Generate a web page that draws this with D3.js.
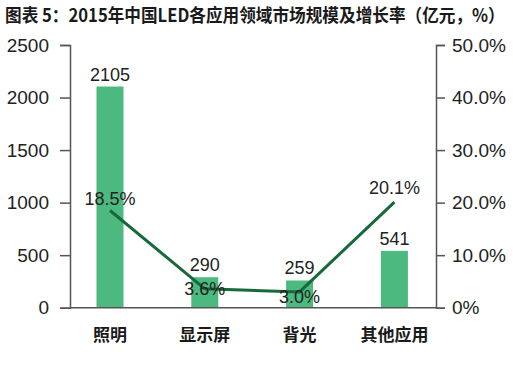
<!DOCTYPE html>
<html><head><meta charset="utf-8">
<script src="https://cdn.jsdelivr.net/npm/d3@7/dist/d3.min.js"></script>
<style>body{margin:0;background:#fff}svg{display:block}</style>
</head><body>
<script>
const categories = ["照明", "显示屏", "背光", "其他应用"];
const marketSize = [2105, 290, 259, 541];
const growthRate = [0.185, 0.036, 0.030, 0.201];
const growthLabels = ["18.5%", "3.6%", "3.0%", "20.1%"];
const leftTicks = [0, 500, 1000, 1500, 2000, 2500];
const rightTicks = [0, 0.1, 0.2, 0.3, 0.4, 0.5];
const rightTickLabels = ["0%", "10.0%", "20.0%", "30.0%", "40.0%", "50.0%"];
const title = "图表 5：2015年中国LED各应用领域市场规模及增长率（亿元，%）";
// label vertical offsets (style, not data)
const growthLabelDy = [-12, 0, 5, -14];

const W = 513, H = 369;
const svg = d3.select("body").append("svg").attr("width", W).attr("height", H);
const axisX0 = 70, axisX1 = 436, yTop = 45, yBot = 307.7;
const x = d3.scaleBand().domain(categories).range([62.6, 441.8]).paddingInner(0.715).paddingOuter(0.3575);
const yL = d3.scaleLinear().domain([0, 2500]).range([yBot, yTop]);
const yR = d3.scaleLinear().domain([0, 0.5]).range([yBot, yTop]);
const cx = c => x(c) + x.bandwidth() / 2;
const font = "'Liberation Sans', Arial, sans-serif";
const cjk = "'Noto Sans CJK SC', sans-serif";
const axisColor = "#555";
const textColor = "#222";

// title: fitted to 500px width via transform
const tt = svg.append("text").attr("x", 0).attr("y", 0).text(title)
  .attr("font-family", cjk).attr("font-weight", "bold").attr("font-size", 16)
  .attr("fill", "#1a1a1a");
const L = tt.node().getComputedTextLength();
tt.attr("transform", `translate(5,21.5) scale(${500 / L},1.12)`);

// bars
svg.selectAll("rect.bar").data(marketSize).join("rect").attr("class", "bar")
  .attr("x", (d, i) => x(categories[i])).attr("width", x.bandwidth())
  .attr("y", d => yL(d)).attr("height", d => yBot - yL(d))
  .attr("fill", "#4cb97f");

// baseline
svg.append("line").attr("x1", axisX0).attr("x2", axisX1).attr("y1", yBot).attr("y2", yBot)
  .attr("stroke", axisColor).attr("stroke-width", 1.5);

// left axis
const gl = svg.append("g").attr("transform", `translate(${axisX0},0)`)
  .call(d3.axisLeft(yL).tickValues(leftTicks).tickSize(10).tickPadding(11).tickFormat(d3.format("d")));
gl.select(".domain").attr("stroke", axisColor).attr("stroke-width", 1.5);
gl.selectAll(".tick line").attr("stroke", axisColor).attr("stroke-width", 1.5);
gl.selectAll(".tick text").attr("font-family", font).attr("font-size", 19).attr("fill", textColor);

// right axis
const gr = svg.append("g").attr("transform", `translate(${axisX1},0)`)
  .call(d3.axisRight(yR).tickValues(rightTicks).tickSize(9).tickPadding(7)
    .tickFormat((d, i) => rightTickLabels[i]));
gr.select(".domain").attr("stroke", axisColor).attr("stroke-width", 1.5);
gr.selectAll(".tick line").attr("stroke", axisColor).attr("stroke-width", 1.5);
gr.selectAll(".tick text").attr("font-family", font).attr("font-size", 19).attr("fill", textColor);

// bar value labels
svg.selectAll("text.val").data(marketSize).join("text").attr("class", "val")
  .attr("x", (d, i) => cx(categories[i])).attr("y", d => yL(d) - 6)
  .attr("text-anchor", "middle").attr("font-family", font).attr("font-size", 18)
  .attr("fill", textColor).text(d => d);

// line
const line = d3.line().x((d, i) => cx(categories[i])).y(d => yR(d));
svg.append("path").datum(growthRate).attr("d", line)
  .attr("fill", "none").attr("stroke", "#17693a").attr("stroke-width", 3);

// line labels
svg.selectAll("text.pct").data(growthRate).join("text").attr("class", "pct")
  .attr("x", (d, i) => cx(categories[i])).attr("y", (d, i) => yR(d) + growthLabelDy[i])
  .attr("dy", "0.35em")
  .attr("text-anchor", "middle").attr("font-family", font).attr("font-size", 18)
  .attr("fill", textColor).text((d, i) => growthLabels[i]);

// category labels
svg.selectAll("text.cat").data(categories).join("text").attr("class", "cat")
  .attr("x", d => cx(d)).attr("y", 341).attr("text-anchor", "middle")
  .attr("font-family", cjk).attr("font-weight", "bold").attr("font-size", 17)
  .attr("fill", "#1a1a1a").text(d => d);
</script>
</body></html>
